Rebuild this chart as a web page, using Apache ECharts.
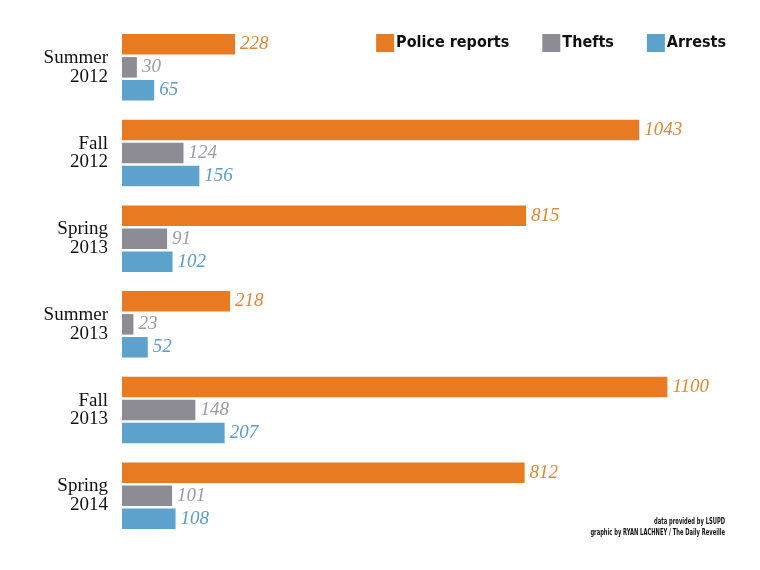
<!DOCTYPE html>
<html>
<head>
<meta charset="utf-8">
<script src="https://cdn.jsdelivr.net/npm/echarts@6/dist/echarts.min.js"></script>
<style>html,body{margin:0;padding:0;background:#fff}#c{width:760px;height:570px}</style>
</head>
<body>
<div id="c"></div>
<script>
var categories = ["Summer 2012", "Fall 2012", "Spring 2013", "Summer 2013", "Fall 2013", "Spring 2014"];
var policeReports = [228, 1043, 815, 218, 1100, 812];
var thefts = [30, 124, 91, 23, 148, 101];
var arrests = [65, 156, 102, 52, 207, 108];
var seriesNames = ["Police reports", "Thefts", "Arrests"];
var barColors = ["#E87A22", "#8D8C94", "#5DA2CC"];
var labelColors = ["#DB8838", "#9C9BA2", "#5C9CC8"];

var chart = echarts.init(document.getElementById('c'), null, {renderer: 'canvas'});
var serif = '"Liberation Serif", "DejaVu Serif", serif';
var narrow = '"DejaVu Sans Condensed", "Liberation Sans Narrow", sans-serif';
var dataSets = [policeReports, thefts, arrests];

var series = dataSets.map(function (d, i) {
  return {
    name: seriesNames[i],
    type: 'bar',
    data: d,
    barWidth: 20.5,
    barGap: '12%',
    itemStyle: {color: barColors[i]},
    label: {
      show: true,
      position: 'right',
      distance: 5,
      fontFamily: serif,
      fontStyle: 'italic',
      fontSize: 19,
      color: labelColors[i]
    },
    emphasis: {disabled: true}
  };
});

chart.setOption({
  animation: false,
  backgroundColor: '#fff',
  grid: {left: 122, right: 43, top: 24.5, bottom: 31.5, containLabel: false},
  legend: {
    data: seriesNames,
    right: 29,
    top: 29,
    itemWidth: 18,
    itemHeight: 18,
    itemGap: 33,
    icon: 'rect',
    textStyle: {fontFamily: narrow, fontWeight: 'bold', fontSize: 16, color: '#111', padding: [0, 0, 0, -3]}
  },
  xAxis: {
    type: 'value', min: 0, max: 1200,
    show: false
  },
  yAxis: {
    type: 'category',
    data: categories,
    inverse: true,
    axisLine: {show: false},
    axisTick: {show: false},
    axisLabel: {
      margin: 14,
      fontFamily: serif,
      fontSize: 19,
      lineHeight: 18.5,
      color: '#111',
      formatter: function (v) { return v.replace(' ', '\n'); }
    }
  },
  series: series,
  graphic: [
    {type: 'text', x: 725, y: 518, scaleX: 0.72, style: {text: 'data provided by LSUPD', font: 'bold 8px ' + narrow, fill: '#111', textAlign: 'right'}},
    {type: 'text', x: 725, y: 529, scaleX: 0.72, style: {text: 'graphic by RYAN LACHNEY / The Daily Reveille', font: 'bold 8px ' + narrow, fill: '#111', textAlign: 'right'}}
  ]
});
</script>
</body>
</html>
